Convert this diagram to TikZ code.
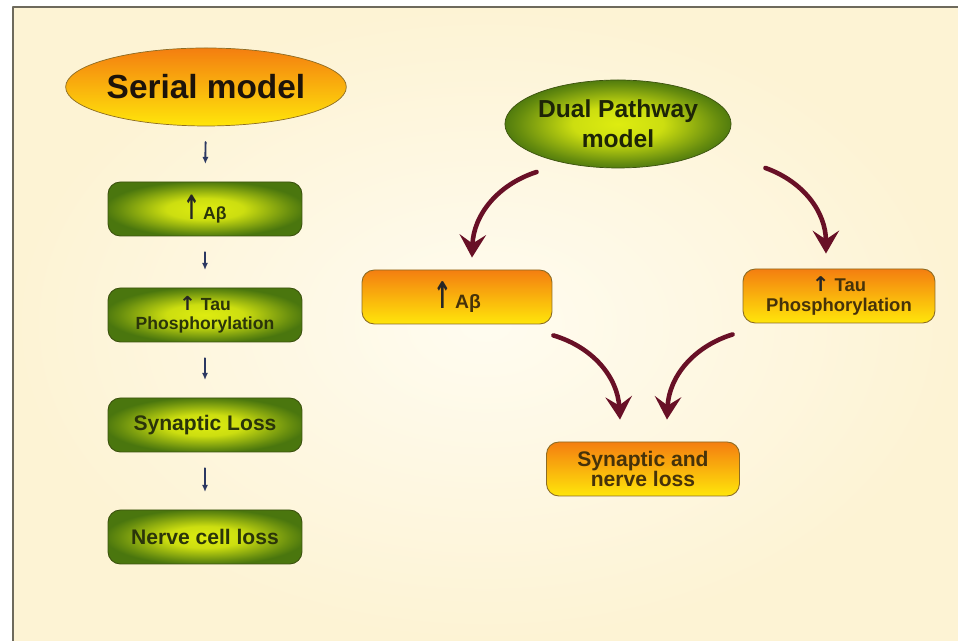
\documentclass[tikz,border=0pt]{standalone}
\usepackage{fontspec}
\setmainfont{Liberation Sans}
\newfontfamily\arrowfont{DejaVu Sans}
\usepackage{graphicx}
\usetikzlibrary{arrows.meta,shapes.geometric,positioning}
\definecolor{paper}{RGB}{253,243,212}
\definecolor{paperlight}{RGB}{255,252,240}
\definecolor{framegray}{RGB}{110,106,92}
\definecolor{leafdark}{RGB}{74,118,14}
\definecolor{leaflight}{RGB}{222,236,16}
\definecolor{leafedge}{RGB}{60,82,14}
\definecolor{leaftext}{RGB}{42,52,10}
\definecolor{amberdark}{RGB}{244,126,16}
\definecolor{amberlight}{RGB}{255,230,10}
\definecolor{amberedge}{RGB}{140,108,36}
\definecolor{ambertext}{RGB}{70,50,10}
\definecolor{inknavy}{RGB}{44,56,98}
\definecolor{pathmaroon}{RGB}{104,16,38}
\pgfdeclareradialshading{leafglow}{\pgfpoint{0bp}{0bp}}{color(0bp)=(leaflight);
  color(10bp)=(leaflight!88!leafdark); color(22bp)=(leafdark!80!leaflight);
  color(26bp)=(leafdark); color(50bp)=(leafdark)}
\newcommand{\upmark}[1]{{\arrowfont\bfseries\color{black!85}\scalebox{1.15}[#1]{↑}}}

\begin{document}
\begin{tikzpicture}[x=0.02cm,y=0.02cm,font=\bfseries,line cap=round,line join=round]
\useasboundingbox (0,0) rectangle (958,641);
\shade[inner color=paperlight,outer color=paper] (13,0) rectangle (958,634);
\draw[framegray,line width=1.3pt] (13,0) -- (13,634) -- (958,634);

% Serial model
\begin{scope}
  \tikzset{greenbox/.style={draw=leafedge,line width=0.5pt,rounded corners=7pt,
      shading=leafglow,shade,text=leaftext,
      minimum width=3.88cm,minimum height=1.08cm,align=center,inner sep=0pt},
    stepline/.style={-{Latex[length=4pt,width=3.5pt]},inknavy,line width=1.1pt,
      shorten <=9pt,shorten >=10pt}}
  \node[ellipse,draw=amberedge,top color=amberdark,bottom color=amberlight,
    minimum width=5.44cm,minimum height=1.56cm,inner sep=0pt,text=black!85!brown,
    font=\bfseries\fontsize{19}{22}\selectfont] (serial) at (206,554) {Serial model};
  \node[greenbox,font=\bfseries\fontsize{10}{11}\selectfont] (sab) at (205,432)
    {\upmark{1.9}\,Aβ};
  \node[greenbox,font=\bfseries\fontsize{10}{11}\selectfont] (stau) at (205,326)
    {\upmark{1.1} Tau\\Phosphorylation};
  \node[greenbox,font=\bfseries\fontsize{12}{14}\selectfont] (ssyn) at (205,216)
    {Synaptic Loss};
  \node[greenbox,font=\bfseries\fontsize{12}{14}\selectfont] (snerve) at (205,104)
    {Nerve cell loss};
  \foreach \a/\b in {serial/sab,sab/stau,stau/ssyn,ssyn/snerve}
    \draw[stepline] (\a) -- (\b);
\end{scope}

% Dual pathway model
\begin{scope}
  \tikzset{orangebox/.style={draw=amberedge,line width=0.5pt,rounded corners=7pt,
      top color=amberdark,bottom color=amberlight,text=ambertext,
      minimum width=3.8cm,minimum height=1.08cm,align=center,inner sep=0pt},
    bigarrow/.style={-{Stealth[length=13pt,width=15pt,inset=5pt]},pathmaroon,
      line width=2.6pt}}
  \node[ellipse,draw=leafedge,shading=leafglow,shade,
    minimum width=4.4cm,minimum height=1.76cm,inner sep=0pt,align=center,
    text=leaftext!70!black,font=\bfseries\fontsize{14}{17}\selectfont]
    (dual) at (618,517) {Dual Pathway\\model};
  \node[orangebox,font=\bfseries\fontsize{11}{12}\selectfont] (dab) at (457,344)
    {\upmark{1.9}\,Aβ};
  \node[orangebox,minimum width=3.84cm,font=\bfseries\fontsize{10.5}{11.5}\selectfont]
    (dtau) at (839,345) {\upmark{1.1} Tau\\Phosphorylation};
  \node[orangebox,minimum width=3.86cm,font=\bfseries\fontsize{12}{11.5}\selectfont]
    (dsyn) at (643,172) {Synaptic and\\nerve loss};
  \draw[bigarrow] ([shift={(32,-48)}]dual.west) to[bend right=35]
    ([shift={(15,12)}]dab.north);
  \draw[bigarrow] ([shift={(34,-44)}]dual.east) to[bend left=35]
    ([shift={(-13,15)}]dtau.north);
  \draw[bigarrow] ([shift={(1,-11)}]dab.south east) to[bend left=35]
    ([shift={(-23,22)}]dsyn.north);
  \draw[bigarrow] ([shift={(-10,-11)}]dtau.south west) to[bend right=35]
    ([shift={(24,22)}]dsyn.north);
\end{scope}
\end{tikzpicture}
\end{document}
